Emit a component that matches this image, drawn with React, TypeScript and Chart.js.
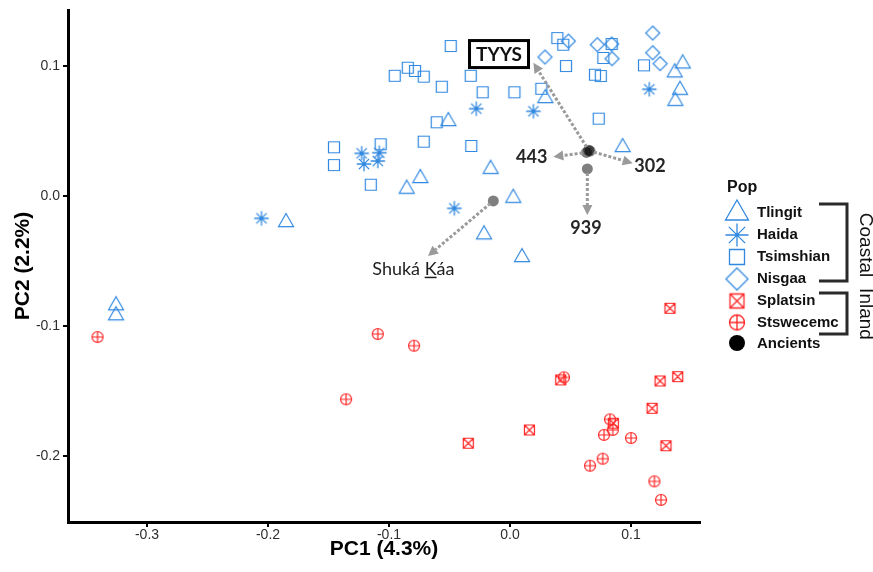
import { useEffect, useRef } from 'react';
import { Chart, registerables } from 'chart.js';

Chart.register(...registerables);

// ---------- data ----------
const xTicks = [-0.3, -0.2, -0.1, 0.0, 0.1];
const yTicks = [-0.2, -0.1, 0.0, 0.1];
const xRange = [-0.3653, 0.157];
const yRange = [-0.2508, 0.1431];

const tlingit: [number, number][] = [
  [0.0292, 0.0769], [-0.051, 0.0592], [-0.0741, 0.0154], [-0.0854, 0.0072],
  [-0.016, 0.0225], [0.0027, 0.0002], [-0.1851, -0.0185], [-0.0215, -0.0279],
  [0.0099, -0.0454], [0.0931, 0.0392], [0.1427, 0.1036], [0.1361, 0.0967],
  [0.1405, 0.0833], [0.1366, 0.0748], [-0.3256, -0.0825], [-0.3256, -0.0902],
];
const haida: [number, number][] = [
  [-0.0279, 0.0672], [0.0193, 0.0652], [-0.1226, 0.0328], [-0.1207, 0.0246],
  [-0.108, 0.0333], [-0.1093, 0.0269], [-0.046, -0.0095], [-0.2054, -0.0172],
  [0.1151, 0.0821],
];
const tsimshian: [number, number][] = [
  [-0.049, 0.1154], [-0.0845, 0.0987], [-0.0785, 0.0962], [-0.0713, 0.0918],
  [-0.0953, 0.0925], [-0.0564, 0.0841], [-0.0325, 0.0925], [-0.0226, 0.0798],
  [0.0036, 0.0798], [0.0259, 0.0825], [-0.0606, 0.0567], [-0.0713, 0.0418],
  [-0.032, 0.0385], [-0.1455, 0.0375], [-0.1455, 0.0238], [-0.1069, 0.0398],
  [-0.1151, 0.0087], [0.0391, 0.1215], [0.044, 0.1164], [0.0463, 0.1],
  [0.084, 0.1169], [0.0771, 0.1062], [0.0702, 0.0933], [0.075, 0.0923],
  [0.1107, 0.1005], [0.0733, 0.0595],
];
const nisgaa: [number, number][] = [
  [0.0482, 0.1192], [0.0289, 0.1069], [0.0721, 0.1164], [0.084, 0.1169],
  [0.0843, 0.1056], [0.1179, 0.1254], [0.1179, 0.1102], [0.124, 0.1018],
];
const splatsin: [number, number][] = [
  [0.1322, -0.0864], [0.0419, -0.1415], [0.124, -0.1423], [0.1386, -0.139],
  [0.1174, -0.1633], [0.0854, -0.1748], [0.016, -0.18], [-0.0345, -0.1902],
  [0.1289, -0.1921],
];
const stswecemc: [number, number][] = [
  [0.0446, -0.1395], [0.0826, -0.1718], [0.0849, -0.18], [0.0777, -0.1838],
  [0.1, -0.1862], [0.0766, -0.2021], [0.0661, -0.2075], [0.1193, -0.2195],
  [0.1248, -0.2338], [-0.3409, -0.1085], [-0.1093, -0.1062], [-0.0793, -0.1152],
  [-0.1355, -0.1564],
];
const ancientNames = ['TYYS', '443', '302', '939', 'Shuká Káa'];
const ancientX = [0.065, 0.0632, 0.0662, 0.0639, -0.0138];
const ancientY = [0.0352, 0.0335, 0.0346, 0.0208, -0.0038];
// arrow tips and label centres (data units)
const tipX = [0.0193, 0.0358, 0.1014, 0.0639, -0.0678];
const tipY = [0.1025, 0.0302, 0.0252, -0.0146, -0.0462];
const labelX = [-0.0091, 0.0179, 0.1157, 0.0628, -0.0799];
const labelY = [0.1092, 0.0302, 0.0233, -0.0244, -0.0565];

const popNames = ['Tlingit', 'Haida', 'Tsimshian', 'Nisgaa', 'Splatsin', 'Stswecemc', 'Ancients'];

// ---------- styles ----------
const BLUE = '#3088e0';
const RED = '#ff2424';
const SANS = '"Liberation Sans", Arial, sans-serif';

function makeSymbol(kind: string, size: number, color: string, lw: number): HTMLCanvasElement {
  const s = Math.ceil(size + lw * 2 + 2);
  const c = document.createElement('canvas');
  c.width = s;
  c.height = s;
  const g = c.getContext('2d') as CanvasRenderingContext2D;
  g.strokeStyle = color;
  g.fillStyle = color;
  g.lineWidth = lw;
  const m = s / 2;
  const h = size / 2;
  g.beginPath();
  if (kind === 'triangle') {
    const th = size * 0.87;
    g.moveTo(m, m - th / 2);
    g.lineTo(m + h, m + th / 2);
    g.lineTo(m - h, m + th / 2);
    g.closePath();
    g.stroke();
  } else if (kind === 'asterisk') {
    for (let i = 0; i < 4; i++) {
      const a = (i * Math.PI) / 4;
      g.moveTo(m + h * Math.cos(a), m + h * Math.sin(a));
      g.lineTo(m - h * Math.cos(a), m - h * Math.sin(a));
    }
    g.stroke();
    g.beginPath();
    g.arc(m, m, lw * 1.1, 0, Math.PI * 2);
    g.fill();
  } else if (kind === 'square') {
    g.rect(m - h, m - h, size, size);
    g.stroke();
  } else if (kind === 'diamond') {
    g.moveTo(m, m - h);
    g.lineTo(m + h, m);
    g.lineTo(m, m + h);
    g.lineTo(m - h, m);
    g.closePath();
    g.stroke();
  } else if (kind === 'squareX') {
    g.rect(m - h, m - h, size, size);
    g.moveTo(m - h, m - h);
    g.lineTo(m + h, m + h);
    g.moveTo(m + h, m - h);
    g.lineTo(m - h, m + h);
    g.stroke();
  } else if (kind === 'circlePlus') {
    g.arc(m, m, h, 0, Math.PI * 2);
    g.moveTo(m - h, m);
    g.lineTo(m + h, m);
    g.moveTo(m, m - h);
    g.lineTo(m, m + h);
    g.stroke();
  } else if (kind === 'dot') {
    g.arc(m, m, h, 0, Math.PI * 2);
    g.fill();
  }
  return c;
}

const toPts = (arr: [number, number][]) => arr.map(([x, y]) => ({ x, y }));

export default function App() {
  const ref = useRef<HTMLCanvasElement | null>(null);

  useEffect(() => {
    if (!ref.current) return;

    const plotSym = {
      Tlingit: makeSymbol('triangle', 15, BLUE, 1.2),
      Haida: makeSymbol('asterisk', 14.5, BLUE, 1.3),
      Tsimshian: makeSymbol('square', 11, BLUE, 1.2),
      Nisgaa: makeSymbol('diamond', 14, BLUE, 1.2),
      Splatsin: makeSymbol('squareX', 10, RED, 1.2),
      Stswecemc: makeSymbol('circlePlus', 11, RED, 1.2),
    };
    const legSym = [
      makeSymbol('triangle', 23, BLUE, 1.3),
      makeSymbol('asterisk', 23, BLUE, 1.3),
      makeSymbol('square', 15, BLUE, 1.3),
      makeSymbol('diamond', 22, BLUE, 1.3),
      makeSymbol('squareX', 14, RED, 1.3),
      makeSymbol('circlePlus', 15, RED, 1.3),
      makeSymbol('dot', 16, '#000', 1),
    ];

    const annotPlugin = {
      id: 'annot',
      afterDatasetsDraw(chart: any) {
        const { ctx, scales } = chart;
        const xs = scales.x;
        const ys = scales.y;
        ctx.save();
        for (let i = 0; i < ancientNames.length; i++) {
          const ox = xs.getPixelForValue(ancientX[i]);
          const oy = ys.getPixelForValue(ancientY[i]);
          const tx = xs.getPixelForValue(tipX[i]);
          const ty = ys.getPixelForValue(tipY[i]);
          const ang = Math.atan2(ty - oy, tx - ox);
          const sx = ox + Math.cos(ang) * 4;
          const sy = oy + Math.sin(ang) * 4;
          const head = 10;
          const bx = tx - Math.cos(ang) * head;
          const by = ty - Math.sin(ang) * head;
          ctx.strokeStyle = '#9a9a9a';
          ctx.fillStyle = '#9a9a9a';
          ctx.lineWidth = 3;
          ctx.setLineDash([3, 2]);
          ctx.beginPath();
          ctx.moveTo(sx, sy);
          ctx.lineTo(bx, by);
          ctx.stroke();
          ctx.setLineDash([]);
          ctx.beginPath();
          ctx.moveTo(tx, ty);
          ctx.lineTo(bx + Math.sin(ang) * 5, by - Math.cos(ang) * 5);
          ctx.lineTo(bx - Math.sin(ang) * 5, by + Math.cos(ang) * 5);
          ctx.closePath();
          ctx.fill();
        }
        // labels
        for (let i = 0; i < ancientNames.length; i++) {
          const lx = xs.getPixelForValue(labelX[i]);
          const ly = ys.getPixelForValue(labelY[i]);
          const name = ancientNames[i];
          ctx.textBaseline = 'middle';
          ctx.fillStyle = '#262626';
          if (name === 'TYYS') {
            ctx.font = 'bold 19px Lato, sans-serif';
            ctx.textAlign = 'center';
            const w = 59;
            const hh = 27;
            ctx.fillStyle = '#fff';
            ctx.fillRect(lx - w / 2, ly - hh / 2, w, hh);
            ctx.strokeStyle = '#000';
            ctx.lineWidth = 3;
            ctx.strokeRect(lx - w / 2, ly - hh / 2, w, hh);
            ctx.fillStyle = '#111';
            ctx.fillText(name, lx, ly + 1);
          } else if (name === 'Shuká Káa') {
            ctx.font = '18px Lato, sans-serif';
            ctx.textAlign = 'left';
            const full = ctx.measureText(name).width;
            const pre = ctx.measureText('Shuká ').width;
            const kw = ctx.measureText('K').width;
            const left = lx - full / 2;
            ctx.fillStyle = '#1e1e1e';
            ctx.fillText(name, left, ly);
            ctx.strokeStyle = '#1e1e1e';
            ctx.lineWidth = 1.5;
            ctx.beginPath();
            ctx.moveTo(left + pre, ly + 8);
            ctx.lineTo(left + pre + kw, ly + 8);
            ctx.stroke();
          } else {
            ctx.font = 'bold 18px Lato, sans-serif';
            ctx.textAlign = 'center';
            ctx.fillText(name, lx, ly);
          }
        }
        ctx.restore();
      },
      afterDraw(chart: any) {
        const { ctx } = chart;
        ctx.save();
        ctx.fillStyle = '#111';
        ctx.textBaseline = 'middle';
        ctx.textAlign = 'left';
        ctx.font = `bold 16px ${SANS}`;
        ctx.fillText('Pop', 727, 188);
        const ys = [213, 235, 257, 279, 301, 322.5, 344];
        const symDy = [-3, 0, 0, 0, 0, 0, -1];
        ctx.font = `bold 15px ${SANS}`;
        for (let i = 0; i < popNames.length; i++) {
          const s = legSym[i];
          ctx.drawImage(s, 737 - s.width / 2, ys[i] + symDy[i] - s.height / 2);
          ctx.fillStyle = '#111';
          ctx.fillText(popNames[i], 757, ys[i]);
        }
        // brackets
        ctx.strokeStyle = '#2a2a2a';
        ctx.lineWidth = 3;
        ctx.lineCap = 'butt';
        ctx.beginPath();
        ctx.moveTo(819, 204);
        ctx.lineTo(847, 204);
        ctx.lineTo(847, 281);
        ctx.lineTo(819, 281);
        ctx.moveTo(819, 293);
        ctx.lineTo(847, 293);
        ctx.lineTo(847, 334);
        ctx.lineTo(819, 334);
        ctx.stroke();
        ctx.fillStyle = '#111';
        ctx.font = `19px ${SANS}`;
        ctx.textAlign = 'center';
        ctx.textBaseline = 'middle';
        ctx.save();
        ctx.translate(865, 245);
        ctx.rotate(Math.PI / 2);
        ctx.fillText('Coastal', 0, 0);
        ctx.restore();
        ctx.save();
        ctx.translate(865, 314);
        ctx.rotate(Math.PI / 2);
        ctx.fillText('Inland', 0, 0);
        ctx.restore();
        ctx.restore();
      },
    };

    const mk = (label: string, data: [number, number][], sym: HTMLCanvasElement) => ({
      label,
      data: toPts(data),
      pointStyle: sym,
      pointRadius: 6,
      pointHoverRadius: 6,
      showLine: false,
    });

    const chart = new Chart(ref.current, {
      type: 'scatter',
      data: {
        datasets: [
          mk('Tlingit', tlingit, plotSym.Tlingit),
          mk('Haida', haida, plotSym.Haida),
          mk('Tsimshian', tsimshian, plotSym.Tsimshian),
          mk('Nisgaa', nisgaa, plotSym.Nisgaa),
          mk('Splatsin', splatsin, plotSym.Splatsin),
          mk('Stswecemc', stswecemc, plotSym.Stswecemc),
          {
            label: 'Ancients',
            data: ancientX.map((x, i) => ({ x, y: ancientY[i] })),
            pointStyle: 'circle',
            pointRadius: 5.5,
            pointHoverRadius: 5.5,
            backgroundColor: 'rgba(0,0,0,0.5)',
            borderWidth: 0,
            showLine: false,
          } as any,
        ],
      },
      options: {
        responsive: false,
        animation: false,
        devicePixelRatio: 1,
        events: [],
        layout: { padding: { left: 0, top: 10, right: 173, bottom: 0 } },
        plugins: { legend: { display: false }, tooltip: { enabled: false } },
        scales: {
          x: {
            type: 'linear',
            min: xRange[0],
            max: xRange[1],
            afterBuildTicks: (s: any) => {
              s.ticks = xTicks.map((v) => ({ value: v }));
            },
            afterFit: (s: any) => {
              s.height = 50;
            },
            grid: { drawOnChartArea: false, drawTicks: true, tickLength: 5, color: '#000', lineWidth: 2 },
            border: { display: true, color: '#000', width: 3 },
            ticks: {
              color: '#2e2e2e',
              padding: 1,
              autoSkip: false,
              maxRotation: 0,
              font: { family: SANS, size: 14, lineHeight: 1 },
              callback: (v: any) => Number(v).toFixed(1),
            },
            title: {
              display: true,
              text: 'PC1 (4.3%)',
              color: '#000',
              font: { family: SANS, size: 21, weight: 'bold', lineHeight: 1 },
              padding: { top: 0, bottom: 12 },
            },
          },
          y: {
            type: 'linear',
            min: yRange[0],
            max: yRange[1],
            afterBuildTicks: (s: any) => {
              s.ticks = yTicks.map((v) => ({ value: v }));
            },
            afterFit: (s: any) => {
              s.width = 68;
            },
            grid: { drawOnChartArea: false, drawTicks: true, tickLength: 5, color: '#000', lineWidth: 2 },
            border: { display: true, color: '#000', width: 3 },
            ticks: {
              color: '#2e2e2e',
              padding: 3,
              autoSkip: false,
              font: { family: SANS, size: 14, lineHeight: 1 },
              callback: (v: any) => Number(v).toFixed(1),
            },
            title: {
              display: true,
              text: 'PC2 (2.2%)',
              color: '#000',
              font: { family: SANS, size: 21, weight: 'bold', lineHeight: 1 },
              padding: { top: 12.5, bottom: 0 },
            },
          },
        },
      } as any,
      plugins: [annotPlugin],
    });

    return () => chart.destroy();
  }, []);

  return (
    <div style={{ position: 'fixed', left: 0, top: 0, width: 873, height: 572, background: '#fff' }}>
      <canvas ref={ref} width={873} height={572} style={{ display: 'block', width: 873, height: 572 }} />
    </div>
  );
}
